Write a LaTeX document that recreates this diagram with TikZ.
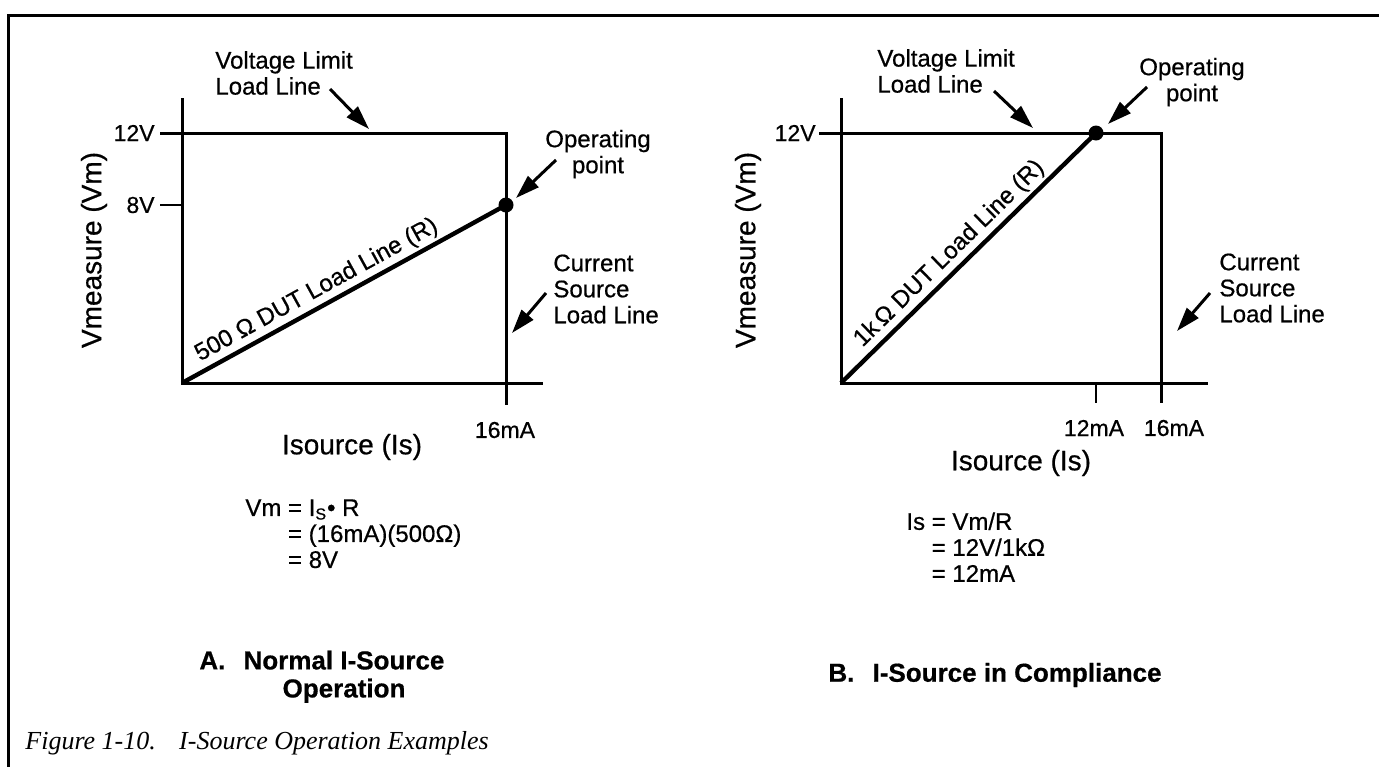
\documentclass[tikz,border=0pt]{standalone}
\usepackage{fontspec}
\setmainfont{Liberation Sans}[FakeBold=0.6]
\newfontfamily\capfont{Liberation Serif}
\usetikzlibrary{arrows.meta}
\tikzset{
  frame/.style={line width=1.5pt},
  axis/.style={line width=1.5pt},
  limitline/.style={line width=1.5pt},
  tickline/.style={line width=1pt},
  loadline/.style={line width=2.2pt},
  callout/.style={line width=1.5pt,-{Triangle[length=12pt,width=7.5pt]}},
  opdot/.style={circle,fill=black,inner sep=0pt,minimum size=7.5pt},
  lbl/.style={font=\fontsize{12}{13}\selectfont,inner sep=0pt},
  ticklbl/.style={font=\fontsize{11.5}{13}\selectfont,inner sep=0pt},
  axlbl/.style={font=\fontsize{14}{16}\selectfont,inner sep=0pt},
  eqlbl/.style={font=\fontsize{12}{13}\selectfont,inner sep=0pt,align=left,anchor=north west},
  ttl/.style={font=\bfseries\fontsize{13}{15}\selectfont,inner sep=0pt},
  caplbl/.style={font=\capfont\itshape\fontsize{13}{15}\selectfont,inner sep=0pt,anchor=west},
}
\begin{document}
\begin{tikzpicture}[x=0.5pt,y=-0.5pt]
\useasboundingbox (0,0) rectangle (1379,767);
% frame
\coordinate (fTR) at (1379,15);
\coordinate (fTL) at (8,15);
\coordinate (fBL) at (8,767);
\draw[frame] (fTR) -- (fTL) -- (fBL);

% ================= Plot A =================
\coordinate (aO) at (182,383);
\coordinate (aYtop) at (182,98);
\coordinate (aXend) at (543,383);
\coordinate (a12) at (160,133);
\coordinate (aCorner) at (506,133);
\coordinate (aBot) at (506,405);
\coordinate (a8t) at (160,205);
\coordinate (a8) at (182,205);
\draw[axis] (aYtop) -- (aO) -- (aXend);
\draw[limitline] (a12) -- (aCorner) -- (aBot);
\draw[tickline] (a8t) -- (a8);
\node[opdot] (aOP) at (506,205) {};
\draw[loadline] (aO) -- (aOP.center)
  node[sloped,pos=0.44,above=1.5pt,lbl] (aLL) {500 Ω DUT Load Line (R)};

\node[ticklbl,anchor=east] (a12l) at (155,133) {12V};
\node[ticklbl,anchor=east] (a8l) at (155,205) {8V};
\node[ticklbl] (a16l) at (505,430) {16mA};
\node[axlbl,rotate=90] (aVm) at (94,250) {Vmeasure (Vm)};
\node[axlbl] (aIs) at (352,447) {Isource (Is)};

\node[lbl,align=left,anchor=west] (aVL) at (215,73) {Voltage Limit\\Load Line};
\node[lbl,align=center] (aOPl) at (598,154) {Operating\\point};
\node[lbl,align=left,anchor=west] (aCS) at (553,289) {Current\\Source\\Load Line};
\coordinate (aVLt) at (330,89);
\coordinate (aVLh) at (369,129);
\coordinate (aOPt) at (556,160);
\coordinate (aOPh) at (516,198);
\coordinate (aCSt) at (546,293);
\coordinate (aCSh) at (512,333);
\draw[callout] (aVLt) -- (aVLh);
\draw[callout] (aOPt) -- (aOPh);
\draw[callout] (aCSt) -- (aCSh);

\node[eqlbl] (aEq) at (245,499) {Vm = I\textsubscript{S}• R\\\phantom{Vm} = (16mA)(500Ω)\\\phantom{Vm} = 8V};
\node[ttl,anchor=north west] (aT) at (199,648) {A.\hspace{0.7em}\begin{tabular}[t]{@{}c@{}}Normal I-Source\\[-1pt]Operation\end{tabular}};

% ================= Plot B =================
\coordinate (bO) at (841,383);
\coordinate (bYtop) at (841,98);
\coordinate (bXend) at (1208,383);
\coordinate (b12) at (819,133);
\coordinate (bCorner) at (1161,133);
\coordinate (bBot) at (1161,403);
\coordinate (b12t) at (1096,383);
\coordinate (b12b) at (1096,403);
\draw[axis] (bYtop) -- (bO) -- (bXend);
\draw[limitline] (b12) -- (bCorner) -- (bBot);
\draw[tickline] (b12t) -- (b12b);
\node[opdot] (bOP) at (1096,133) {};
\draw[loadline] (bO) -- (bOP.center)
  node[sloped,pos=0.47,above=1.5pt,lbl] (bLL) {1k\,Ω DUT Load Line (R)};

\node[ticklbl,anchor=east] (b12l) at (816,133) {12V};
\node[ticklbl] (b12ml) at (1094,428) {12mA};
\node[ticklbl] (b16ml) at (1174,428) {16mA};
\node[axlbl,rotate=90] (bVm) at (748,250) {Vmeasure (Vm)};
\node[axlbl] (bIs) at (1021,463) {Isource (Is)};

\node[lbl,align=left,anchor=west] (bVL) at (877,71) {Voltage Limit\\Load Line};
\node[lbl,align=center] (bOPl) at (1192,82) {Operating\\point};
\node[lbl,align=left,anchor=west] (bCS) at (1219,288) {Current\\Source\\Load Line};
\coordinate (bVLt) at (994,91);
\coordinate (bVLh) at (1033,128);
\coordinate (bOPt) at (1147,87);
\coordinate (bOPh) at (1108,124);
\coordinate (bCSt) at (1210,293);
\coordinate (bCSh) at (1177,331);
\draw[callout] (bVLt) -- (bVLh);
\draw[callout] (bOPt) -- (bOPh);
\draw[callout] (bCSt) -- (bCSh);

\node[eqlbl] (bEq) at (906,512) {Is = Vm/R\\\phantom{Is} = 12V/1kΩ\\\phantom{Is} = 12mA};
\node[ttl,anchor=west] (bT) at (828,675) {B.\hspace{0.7em}I-Source in Compliance};

% caption
\node[caplbl] (cap) at (25,743) {Figure 1-10.\hspace{0.9em}I-Source Operation Examples};
\end{tikzpicture}
\end{document}
